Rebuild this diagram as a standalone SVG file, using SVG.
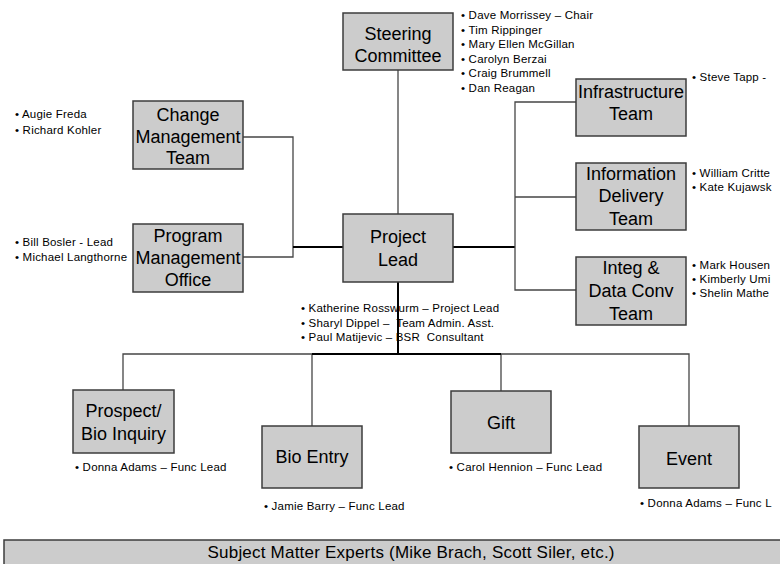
<svg xmlns="http://www.w3.org/2000/svg" width="780" height="564" viewBox="0 0 780 564">
<style>
.box{fill:#cccccc;stroke:#3c3c3c;stroke-width:1.5}
.t{font-family:"Liberation Sans",Arial,sans-serif;font-size:18px;fill:#000;text-anchor:middle}
.b{font-family:"Liberation Sans",Arial,sans-serif;font-size:11.5px;fill:#000;letter-spacing:0.2px}
.thin{stroke:#454545;stroke-width:1.3;fill:none}
.thick{stroke:#000;stroke-width:2;fill:none}
</style>
<rect width="780" height="564" fill="#fff"/>
<g id="connectors">
<path class="thin" d="M398 70V214"/>
<path class="thin" d="M243 137H293V257H243"/>
<path class="thick" d="M293 247H343"/>
<path class="thick" d="M453 247H515"/>
<path class="thin" d="M576 102H515V290H576M515 197H576"/>
<path class="thick" d="M398 282V354"/>
<path class="thin" d="M123 390V354H689V426M312 354V426M501 354V391"/>
<path class="thick" d="M312 354H501"/>
</g>
<g id="steering">
<rect class="box" x="343" y="13" width="110" height="57"/>
<text class="t" x="398" y="40">Steering</text>
<text class="t" x="398" y="62">Committee</text>
<text class="b" x="461" y="19">• Dave Morrissey – Chair</text>
<text class="b" x="461" y="33.5">• Tim Rippinger</text>
<text class="b" x="461" y="48">• Mary Ellen McGillan</text>
<text class="b" x="461" y="62.5">• Carolyn Berzai</text>
<text class="b" x="461" y="77">• Craig Brummell</text>
<text class="b" x="461" y="91.5">• Dan Reagan</text>
</g>
<g id="infrastructure">
<rect class="box" x="576" y="79" width="110" height="57"/>
<text class="t" x="631" y="98">Infrastructure</text>
<text class="t" x="631" y="120">Team</text>
<text class="b" x="692" y="81">• Steve Tapp -</text>
</g>
<g id="information">
<rect class="box" x="576" y="163" width="110" height="67"/>
<text class="t" x="631" y="180">Information</text>
<text class="t" x="631" y="202">Delivery</text>
<text class="t" x="631" y="225">Team</text>
<text class="b" x="692" y="177">• William Critte</text>
<text class="b" x="692" y="191">• Kate Kujawsk</text>
</g>
<g id="integ">
<rect class="box" x="576" y="257" width="110" height="68"/>
<text class="t" x="631" y="274">Integ &amp;</text>
<text class="t" x="631" y="297">Data Conv</text>
<text class="t" x="631" y="320">Team</text>
<text class="b" x="692" y="269">• Mark Housen</text>
<text class="b" x="692" y="283">• Kimberly Umi</text>
<text class="b" x="692" y="297">• Shelin Mathe</text>
</g>
<g id="change">
<rect class="box" x="133" y="101" width="110" height="68"/>
<text class="t" x="188" y="121">Change</text>
<text class="t" x="188" y="143">Management</text>
<text class="t" x="188" y="164">Team</text>
<text class="b" x="15" y="118">• Augie Freda</text>
<text class="b" x="15" y="134">• Richard Kohler</text>
</g>
<g id="pmo">
<rect class="box" x="133" y="224" width="110" height="68"/>
<text class="t" x="188" y="242">Program</text>
<text class="t" x="188" y="264">Management</text>
<text class="t" x="188" y="286">Office</text>
<text class="b" x="15" y="246">• Bill Bosler - Lead</text>
<text class="b" x="15" y="261">• Michael Langthorne</text>
</g>
<g id="projectlead">
<rect class="box" x="343" y="214" width="110" height="68"/>
<text class="t" x="398" y="243">Project</text>
<text class="t" x="398" y="266">Lead</text>
<text class="b" x="301" y="312">• Katherine Rosswurm – Project Lead</text>
<text class="b" x="301" y="327" xml:space="preserve">• Sharyl Dippel –  Team Admin. Asst.</text>
<text class="b" x="301" y="341" xml:space="preserve">• Paul Matijevic – BSR  Consultant</text>
</g>
<g id="prospect">
<rect class="box" x="73" y="390" width="101" height="63"/>
<text class="t" x="123.5" y="417">Prospect/</text>
<text class="t" x="123.5" y="440">Bio Inquiry</text>
<text class="b" x="75" y="471">• Donna Adams – Func Lead</text>
</g>
<g id="bioentry">
<rect class="box" x="262" y="426" width="100" height="62"/>
<text class="t" x="312" y="463">Bio Entry</text>
<text class="b" x="264" y="510">• Jamie Barry – Func Lead</text>
</g>
<g id="gift">
<rect class="box" x="451" y="391" width="100" height="62"/>
<text class="t" x="501" y="429">Gift</text>
<text class="b" x="449" y="471">• Carol Hennion – Func Lead</text>
</g>
<g id="event">
<rect class="box" x="639" y="426" width="100" height="62"/>
<text class="t" x="689" y="465">Event</text>
<text class="b" x="640" y="507">• Donna Adams – Func L</text>
</g>
<g id="sme">
<rect class="box" x="4" y="540" width="800" height="40"/>
<text class="t" x="411" y="558" style="font-size:17px" textLength="407">Subject Matter Experts (Mike Brach, Scott Siler, etc.)</text>
</g>
</svg>
